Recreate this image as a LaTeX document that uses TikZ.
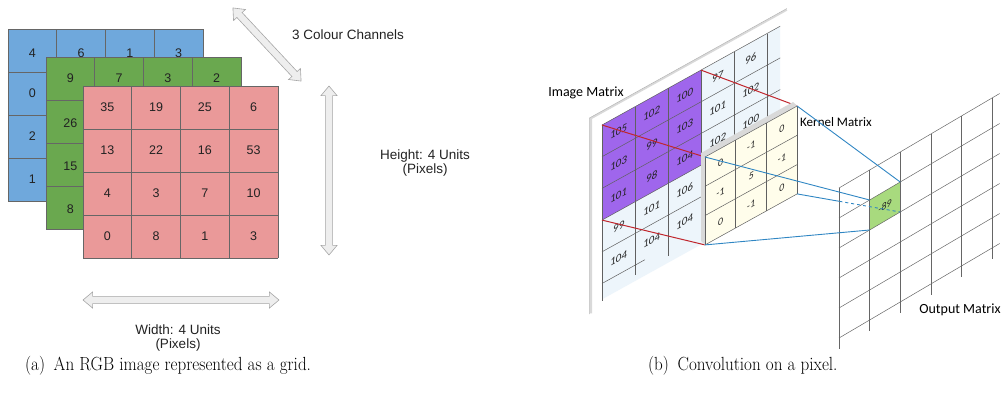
\documentclass[tikz,border=0pt]{standalone}
\usepackage{fontspec}
\newfontfamily\arialfont{Liberation Sans}
\newfontfamily\calfont{Carlito}
\usetikzlibrary{shapes.arrows,calc}
\definecolor{chblue}{HTML}{6FA8DC}
\definecolor{chgreen}{HTML}{6AA84F}
\definecolor{chred}{HTML}{EA9999}
\definecolor{cellline}{HTML}{666666}
\definecolor{arrowfill}{HTML}{EEEEEE}
\definecolor{arrowline}{HTML}{A6A6A6}
\definecolor{patchviolet}{HTML}{9F66EC}
\definecolor{pixtint}{HTML}{EDF5FB}
\definecolor{kercream}{HTML}{FFFDEB}
\definecolor{projred}{HTML}{C0262D}
\definecolor{projblue}{HTML}{2F86C3}
\definecolor{outgreen}{HTML}{A8DA7E}
\definecolor{txtgray}{HTML}{222222}

\begin{document}
\begin{tikzpicture}[
    x=1pt,
    y=-1pt,
    font=\arialfont,
    cell/.style={draw=cellline, line width=0.6pt},
    num/.style={font=\arialfont\fontsize{12.5}{14}\selectfont, text=txtgray, inner sep=0pt},
    dblarrow/.style={double arrow, draw=arrowline, fill=arrowfill, line width=0.6pt, inner xsep=0pt, inner ysep=3.3pt, double arrow head extend=4.5pt, double arrow tip angle=80},
    lab/.style={font=\arialfont\fontsize{13.5}{14}\selectfont, align=center, text=txtgray},
    mlab/.style={font=\calfont\fontsize{14}{16}\selectfont, text=black, inner sep=0pt},
    skew/.style={yslant=0.555, font=\calfont\itshape\fontsize{11}{12}\selectfont, inner sep=0pt, text=txtgray},
    gline/.style={draw=gray!75!black, line width=0.5pt},
    plate/.style={draw=gray!30, line width=1.8pt},
    proj/.style={draw=projred, line width=1pt},
    ray/.style={draw=projblue, line width=0.9pt},
    capt/.style={font=\fontsize{19}{22}\selectfont, xscale=0.9, inner sep=0pt, anchor=west}
  ]
    \useasboundingbox (0,0) rectangle (1008,392);

    % blue channel
    \fill[chblue] (8,29) rectangle (203,201);
    \foreach \c in {0,...,4} \draw[cell] (8+48.75*\c,29) -- ++(0,172);
    \foreach \r in {0,...,4} \draw[cell] (8,29+43*\r) -- ++(195,0);
    \foreach \v [count=\c from 0] in {4,6,1,3} \node[num] (b-0-\c) at (32.4+48.75*\c,53.5) {\v};
    \foreach \v [count=\r from 1] in {0,2,1} \node[num] (b-\r-0) at (32.4,50.5+43*\r) {\v};

    % green channel
    \fill[chgreen] (46,57) rectangle (241,229);
    \foreach \c in {0,...,4} \draw[cell] (46+48.75*\c,57) -- ++(0,172);
    \foreach \r in {0,...,4} \draw[cell] (46,57+43*\r) -- ++(195,0);
    \foreach \v [count=\c from 0] in {9,7,3,2} \node[num] (g-0-\c) at (70.4+48.75*\c,78.5) {\v};
    \foreach \v [count=\r from 1] in {26,15,8} \node[num] (g-\r-0) at (70.4,80.5+43*\r) {\v};

    % red channel
    \fill[chred] (83,86) rectangle (278,258);
    \foreach \c in {0,...,4} \draw[cell] (83+48.75*\c,86) -- ++(0,172);
    \foreach \r in {0,...,4} \draw[cell] (83,86+43*\r) -- ++(195,0);
    \foreach \row [count=\r from 0] in {{35,19,25,6},{13,22,16,53},{4,3,7,10},{0,8,1,3}}
      \foreach \v [count=\c from 0] in \row
        \node[num] (r-\r-\c) at (107.4+48.75*\c,107.5+43*\r) {\v};

    % size arrows
    \node[dblarrow, minimum height=100pt, rotate=-47] (chanarrow) at (267,44.5) {};
    \node[dblarrow, minimum height=169pt, rotate=90] (heightarrow) at (329,170.5) {};
    \node[dblarrow, minimum height=196pt] (widtharrow) at (181,300) {};
    \node[lab] (chanlab) at (348,35) {3 Colour Channels};
    \node[lab] (heightlab) at (425,163) {Height: 4 Units\\(Pixels)};
    \node[lab] (widthlab) at (178,338) {Width: 4 Units\\(Pixels)};

    % image matrix
    \begin{scope}[shift={(602pt,-125pt)}, x={(33pt,18.3pt)}, y={(0pt,-31.7pt)}]
      \fill[white] (-0.33,-0.4) -- (5.6,-0.4) -- (5.6,5.75) -- (-0.33,5.75) -- cycle;
      \draw[plate] (-0.33,5.75) -- (-0.33,-0.4) -- (5.6,-0.4);
      \draw[gray!60, line width=0.5pt] (-0.38,5.75) -- (-0.38,-0.44) -- (5.6,-0.44);
      \fill[pixtint] (0,0) -- (5.4,0) -- (5.4,5.5) -- (0,5.5) -- cycle;
      \fill[patchviolet] (0,0) -- (3,0) -- (3,3) -- (0,3) -- cycle;
      \draw[gline] (0,0) -- (0,5.55);
      \foreach \i in {1,...,5} \draw[gline] (\i,0) -- (\i,5.3);
      \foreach \j in {0,...,4} \draw[gline] (0,\j) -- (5.4,\j);
      \draw[gline] (0,5) -- (1.3,5);
      \foreach \row [count=\j from 0] in {{105,102,100,97,96},{103,99,103,101,102},{101,98,104,102,100},{99,101,106},{104,104,104}}
        \foreach \v [count=\i from 0] in \row
          \node[skew] (px-\i-\j) at (\i+0.5,\j+0.5) {\v};
      \coordinate (patchNW) at (0,0);
      \coordinate (patchNE) at (3,0);
      \coordinate (patchSW) at (0,3);
    \end{scope}
    \node[mlab] (imglab) at (586,93) {Image Matrix};

    % kernel matrix
    \begin{scope}[shift={(705pt,-157pt)}, x={(30.7pt,17pt)}, y={(0pt,-29.3pt)}]
      \coordinate (kerNW) at (0,0);
      \coordinate (kerNE) at (3,0);
      \coordinate (kerSW) at (0,3);
      \coordinate (kerSE) at (3,3);
    \end{scope}
    \draw[proj] (patchNW) -- (kerNW);
    \draw[proj] (patchNE) -- (kerNE);
    \draw[proj] (patchSW) -- (kerSW);
    \begin{scope}[shift={(705pt,-157pt)}, x={(30.7pt,17pt)}, y={(0pt,-29.3pt)}]
      \fill[gray!30] (0,3) -- (0,0) -- (3,0) -- ++(-4pt,4pt) -- ++(-92.1pt,-51pt) -- ++(0pt,-87.9pt) -- cycle;
      \fill[kercream] (0,0) -- (3,0) -- (3,3) -- (0,3) -- cycle;
      \foreach \i in {0,...,3} \draw[gline] (\i,0) -- (\i,3);
      \foreach \j in {0,...,3} \draw[gline] (0,\j) -- (3,\j);
      \foreach \row [count=\j from 0] in {{0,-1,0},{-1,5,-1},{0,-1,0}}
        \foreach \v [count=\i from 0] in \row
          \node[skew, font=\calfont\itshape\fontsize{10}{12}\selectfont] (k-\i-\j) at (\i+0.5,\j+0.5) {\v};
    \end{scope}
    \node[mlab, font=\calfont\fontsize{13}{15}\selectfont, anchor=west] (kerlab) at (800,122) {Kernel Matrix};

    % output matrix
    \begin{scope}[shift={(839pt,-188pt)}, x={(30.6pt,18pt)}, y={(0pt,-30pt)}]
      \fill[outgreen] (1,1) -- (2,1) -- (2,2) -- (1,2) -- cycle;
      \foreach \i in {0,...,5} \draw[gline, draw=gray!80!black] (\i,0) -- (\i,5.35);
      \foreach \j in {0,...,5} \draw[gline, draw=gray!80!black] (0,\j) -- (5.25,\j);
      \node[skew, yslant=0.03, font=\calfont\itshape\fontsize{10}{12}\selectfont] (outval) at (1.5,1.5) {-89};
      \coordinate (outNW) at (1,1);
      \coordinate (outNE) at (2,1);
      \coordinate (outSW) at (1,2);
      \coordinate (outSE) at (2,2);
    \end{scope}
    \node[mlab] (outlab) at (960,310) {Output Matrix};

    \coordinate (cut) at ($(kerSE)!0.41!(outSE)$);
    \draw[ray] (kerNW) -- (outNW);
    \draw[ray] (kerNE) -- (outNE);
    \draw[ray] (kerSW) -- (outSW);
    \draw[ray] (kerSE) -- (cut);
    \draw[ray, dashed] (cut) -- (outSE);

    % captions
    \node[capt] (capa) at (25,366) {(a)\enspace An RGB image represented as a grid.};
    \node[capt] (capb) at (648,366) {(b)\enspace Convolution on a pixel.};
  \end{tikzpicture}
\end{document}
